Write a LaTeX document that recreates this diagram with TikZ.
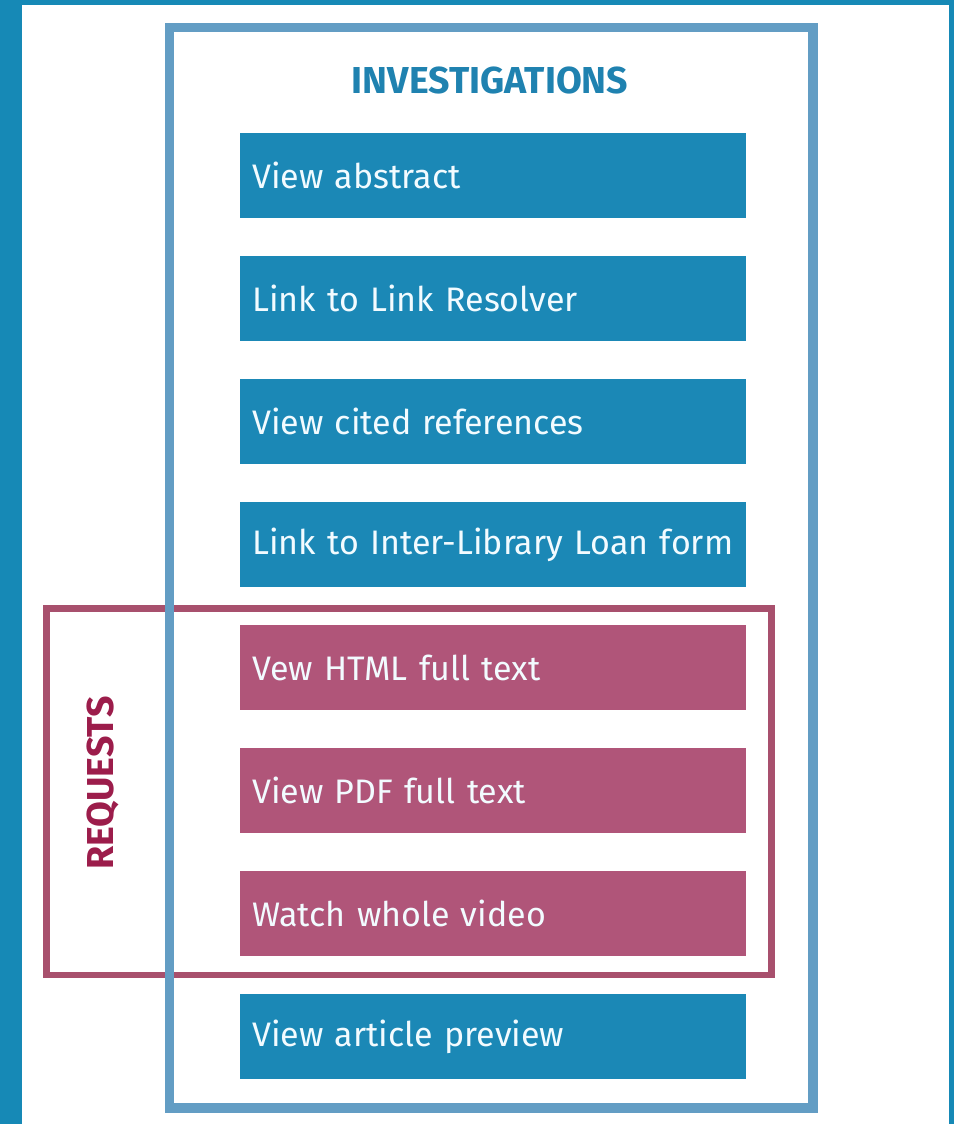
\documentclass[tikz,border=0pt]{standalone}
\usepackage{fontspec}
\setmainfont{Fira Sans}
\definecolor{outerblue}{HTML}{1689B6}
\definecolor{invframe}{HTML}{639DC4}
\definecolor{boxblue}{HTML}{1B88B6}
\definecolor{boxpink}{HTML}{B05579}
\definecolor{reqframe}{HTML}{A8506D}
\definecolor{reqtext}{HTML}{9C1D4B}
\definecolor{invtext}{HTML}{1F82B0}
\definecolor{boxtext}{HTML}{F2FBFF}
\tikzset{
  itembox/.style={anchor=north west, minimum width=506pt, minimum height=85pt,
    text width=482pt, inner xsep=12pt, inner ysep=0pt, align=left,
    text=boxtext, font=\fontsize{34}{37}\selectfont},
  bluebox/.style={itembox, fill=boxblue},
  pinkbox/.style={itembox, fill=boxpink},
  title/.style={font=\fontsize{37.5}{40}\selectfont\bfseries}
}
\begin{document}
\begin{tikzpicture}[x=1pt,y=-1pt]
\useasboundingbox (0,0) rectangle (954,1124);
\fill[outerblue] (0,0) rectangle (954,1124);
\fill[white] (22,5) rectangle (949,1124);
\node[bluebox] (b1) at (240,133) {\mbox{View abstract}};
\node[bluebox] (b2) at (240,256) {\mbox{Link to Link Resolver}};
\node[bluebox] (b3) at (240,379) {\mbox{View cited references}};
\node[bluebox] (b4) at (240,502) {\mbox{Link to Inter-Library Loan form}};
\node[pinkbox] (p1) at (240,625) {\mbox{Vew HTML full text}};
\node[pinkbox] (p2) at (240,748) {\mbox{View PDF full text}};
\node[pinkbox] (p3) at (240,871) {\mbox{Watch whole video}};
\node[bluebox] (b5) at (240,994) {\mbox{View article preview}};
\draw[reqframe, line width=6.5pt] (46.5,608.5) rectangle (771.5,975);
\draw[invframe, line width=9.5pt] (169.5,27.5) rectangle (813,1108);
\node[title, text=invtext] (inv) at (490,81) {INVESTIGATIONS};
\node[title, text=reqtext, rotate=90] (req) at (103,783) {REQUESTS};
\end{tikzpicture}
\end{document}
